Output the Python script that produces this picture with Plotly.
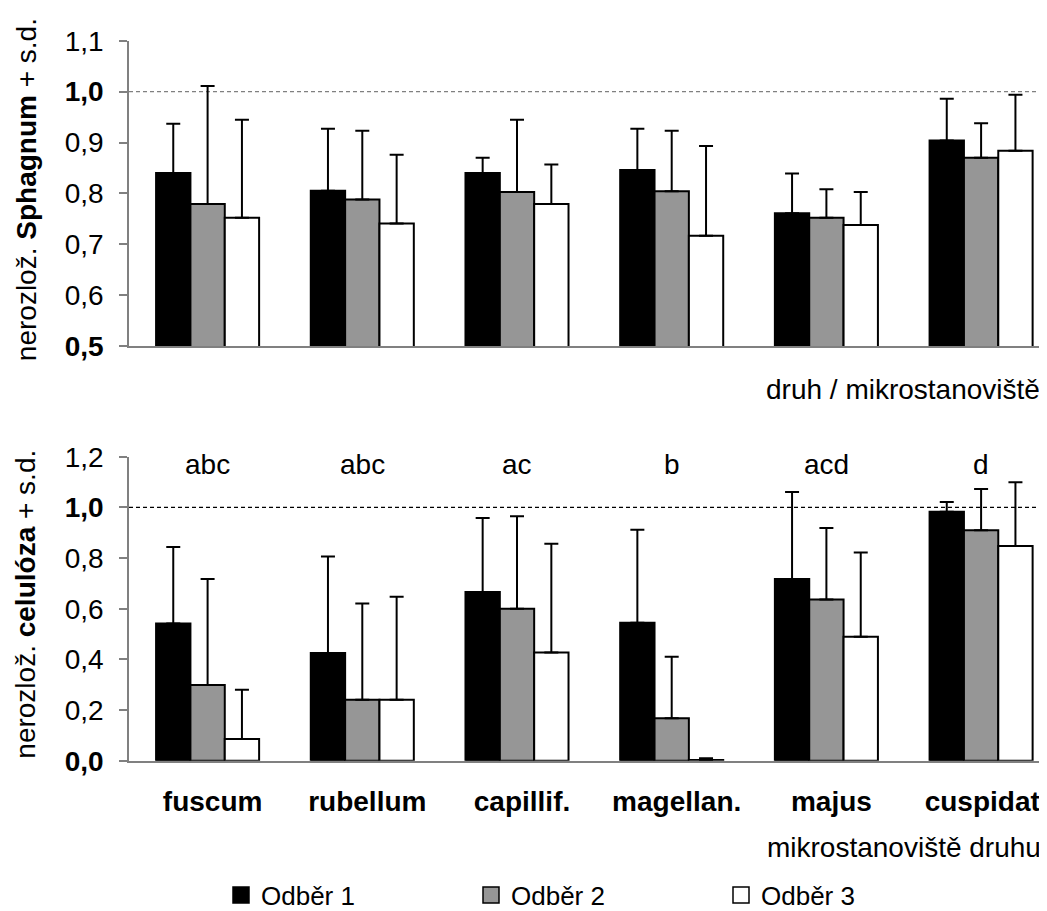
import plotly.graph_objects as go
from plotly.subplots import make_subplots

# ---------------- data ----------------
categories = ["fuscum", "rubellum", "capillif.", "magellan.", "majus", "cuspidat."]
series_names = ["Odběr 1", "Odběr 2", "Odběr 3"]
series_colors = ["#000000", "#969696", "#ffffff"]

# undecomposed Sphagnum (mean, s.d.)
sph_mean_1 = [0.840, 0.805, 0.840, 0.846, 0.761, 0.904]
sph_sd_1 = [0.097, 0.122, 0.030, 0.081, 0.078, 0.082]
sph_mean_2 = [0.779, 0.788, 0.803, 0.804, 0.752, 0.870]
sph_sd_2 = [0.232, 0.135, 0.142, 0.119, 0.056, 0.068]
sph_mean_3 = [0.752, 0.741, 0.779, 0.717, 0.738, 0.884]
sph_sd_3 = [0.193, 0.135, 0.078, 0.176, 0.065, 0.110]

# undecomposed cellulose (mean, s.d.)
cel_mean_1 = [0.542, 0.425, 0.666, 0.545, 0.717, 0.983]
cel_sd_1 = [0.302, 0.381, 0.292, 0.367, 0.344, 0.038]
cel_mean_2 = [0.299, 0.241, 0.600, 0.168, 0.636, 0.910]
cel_sd_2 = [0.418, 0.380, 0.365, 0.242, 0.283, 0.163]
cel_mean_3 = [0.086, 0.241, 0.427, 0.003, 0.489, 0.848]
cel_sd_3 = [0.194, 0.406, 0.429, 0.007, 0.333, 0.251]

group_letters = ["abc", "abc", "ac", "b", "acd", "d"]

sph_tickvals = [0.5, 0.6, 0.7, 0.8, 0.9, 1.0, 1.1]
sph_ticktext = ["<b>0,5</b>", "0,6", "0,7", "0,8", "0,9", "<b>1,0</b>", "1,1"]
cel_tickvals = [0.0, 0.2, 0.4, 0.6, 0.8, 1.0, 1.2]
cel_ticktext = ["<b>0,0</b>", "0,2", "0,4", "0,6", "0,8", "<b>1,0</b>", "1,2"]

# ---------------- figure ----------------
W, H = 1047, 911
FONT = "Liberation Sans, Arial, sans-serif"
AXIS_GREY = "#808080"

fig = make_subplots(rows=2, cols=1)

sph_means = [sph_mean_1, sph_mean_2, sph_mean_3]
sph_sds = [sph_sd_1, sph_sd_2, sph_sd_3]
cel_means = [cel_mean_1, cel_mean_2, cel_mean_3]
cel_sds = [cel_sd_1, cel_sd_2, cel_sd_3]

for i in range(3):
    for row, means, sds in ((1, sph_means, sph_sds), (2, cel_means, cel_sds)):
        fig.add_trace(
            go.Bar(
                x=categories,
                y=means[i],
                name=series_names[i],
                legendgroup=series_names[i],
                showlegend=False,
                marker=dict(color=series_colors[i], line=dict(color="#000000", width=2)),
                error_y=dict(
                    type="data",
                    symmetric=False,
                    array=sds[i],
                    arrayminus=[0] * len(categories),
                    color="#000000",
                    thickness=2,
                    width=7,
                ),
            ),
            row=row,
            col=1,
        )

# legend entries (square swatches like the original)
for i in range(3):
    fig.add_trace(
        go.Scatter(
            x=[None], y=[None], mode="markers", name=series_names[i],
            legendgroup=series_names[i], showlegend=True,
            marker=dict(symbol="square", size=16, color=series_colors[i],
                        line=dict(color="#000000", width=1.5)),
            hoverinfo="skip",
        ),
        row=2, col=1,
    )

def px_to_paper_y(py):
    return 1 - py / H

x_left_px, x_right_px = 121, 1047
center0_px, cat_w_px = 199.6, 154.7
xr0 = (x_left_px - center0_px) / cat_w_px
xr1 = (x_right_px - center0_px) / cat_w_px

common_x = dict(
    domain=[x_left_px / W, x_right_px / W],
    range=[xr0, xr1],
    showline=True,
    linecolor=AXIS_GREY,
    linewidth=1.5,
    ticks="",
    showgrid=False,
    zeroline=False,
)
fig.update_xaxes(**common_x, showticklabels=False, row=1, col=1)
fig.update_xaxes(
    **common_x,
    showticklabels=True,
    tickfont=dict(family=FONT, size=28, color="#000000", weight="bold"),
    ticklabelstandoff=15,
    ticklabelshift=5,
    row=2,
    col=1,
)

common_y = dict(
    showline=True,
    linecolor=AXIS_GREY,
    linewidth=1.5,
    ticks="outside",
    ticklen=8,
    tickcolor=AXIS_GREY,
    tickwidth=1.5,
    showgrid=False,
    zeroline=False,
    tickfont=dict(family=FONT, size=28, color="#000000"),
    ticklabelstandoff=10,
    automargin=False,
)
fig.update_yaxes(
    **common_y,
    domain=[px_to_paper_y(343.3), px_to_paper_y(33.3)],
    range=[0.5, 1.1],
    tickvals=sph_tickvals,
    ticktext=sph_ticktext,
    row=1,
    col=1,
)
fig.update_yaxes(
    **common_y,
    domain=[px_to_paper_y(764.5), px_to_paper_y(455.7)],
    range=[0.0, 1.2],
    tickvals=cel_tickvals,
    ticktext=cel_ticktext,
    row=2,
    col=1,
)

# reference lines at 1.0
fig.add_shape(type="line", xref="x domain", yref="y", x0=0, x1=1, y0=1.0, y1=1.0,
              line=dict(color="#808080", width=1.2, dash="4px,3px"), layer="below")
fig.add_shape(type="line", xref="x2 domain", yref="y2", x0=0, x1=1, y0=1.0, y1=1.0,
              line=dict(color="#000000", width=1.2, dash="4px,3px"), layer="below")

annotations = []
# y-axis titles
annotations.append(dict(
    text="nerozlož. <b>Sphagnum</b> + s.d.", textangle=-90,
    xref="paper", yref="paper", x=18 / W, y=px_to_paper_y(185),
    xanchor="center", yanchor="middle", showarrow=False,
    font=dict(family=FONT, size=28, color="#000000"),
))
annotations.append(dict(
    text="nerozlož. <b>celulóza</b> + s.d.", textangle=-90,
    xref="paper", yref="paper", x=18 / W, y=px_to_paper_y(606),
    xanchor="center", yanchor="middle", showarrow=False,
    font=dict(family=FONT, size=28, color="#000000"),
))
# x-axis titles (right aligned)
annotations.append(dict(
    text="druh / mikrostanoviště", xref="paper", yref="paper",
    x=1034 / W, y=px_to_paper_y(387), xanchor="right", yanchor="middle",
    showarrow=False, font=dict(family=FONT, size=28, color="#000000"),
))
annotations.append(dict(
    text="mikrostanoviště druhu", xref="paper", yref="paper",
    x=1035 / W, y=px_to_paper_y(853), xanchor="right", yanchor="middle",
    showarrow=False, font=dict(family=FONT, size=28, color="#000000"),
))
# significance letters
for cat, letter in zip(categories, group_letters):
    annotations.append(dict(
        text=letter, xref="x2", yref="paper", x=cat, y=px_to_paper_y(464),
        xanchor="center", yanchor="middle", showarrow=False,
        font=dict(family=FONT, size=28, color="#000000"),
    ))

fig.update_layout(
    width=W,
    height=H,
    margin=dict(l=0, r=0, t=0, b=0),
    paper_bgcolor="#ffffff",
    plot_bgcolor="#ffffff",
    barmode="group",
    bargap=0.334,
    bargroupgap=0,
    annotations=annotations,
    showlegend=True,
    legend=dict(
        orientation="h",
        x=213 / W,
        xanchor="left",
        y=px_to_paper_y(901),
        yanchor="middle",
        entrywidth=205,
        entrywidthmode="pixels",
        font=dict(family=FONT, size=26, color="#000000"),
        bgcolor="rgba(0,0,0,0)",
        borderwidth=0,
        traceorder="normal",
    ),
    font=dict(family=FONT, color="#000000"),
)

fig.write_html("out.html")
